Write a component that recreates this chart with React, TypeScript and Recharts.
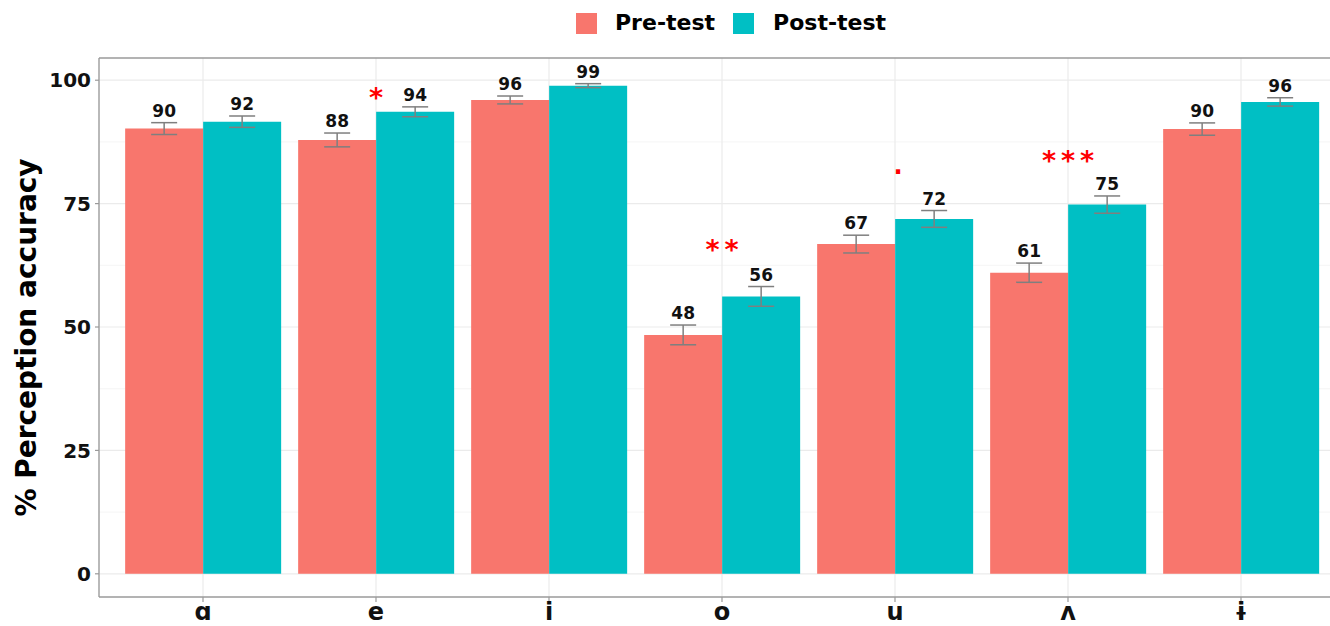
import React from 'react';
import {
  ComposedChart,
  Bar,
  Line,
  XAxis,
  YAxis,
  CartesianGrid,
  ErrorBar,
  LabelList,
  Legend,
  ReferenceLine,
} from 'recharts';

// Vowel categories on the x axis
const vowels = ['ɑ', 'e', 'i', 'o', 'u', 'ʌ', 'ɨ'];

// Series names, in legend order
const seriesNames = ['Pre-test', 'Post-test'];

// Mean perception accuracy (%) and standard error, before and after training
const preTest = [90.2, 87.9, 96.0, 48.4, 66.8, 61.0, 90.1];
const preErr = [1.2, 1.4, 0.8, 2.0, 1.8, 1.95, 1.25];
const postTest = [91.6, 93.6, 98.9, 56.2, 71.9, 74.8, 95.6];
const postErr = [1.15, 1.0, 0.4, 2.0, 1.7, 1.75, 0.85];

// Significance of the pre/post difference and the height it is printed at
const sigMarks = ['', '*', '', '**', '.', '***', ''];
const sigHeights: (number | null)[] = [null, 97.6, null, 66.8, 81.5, 84.9, null];

const yTicks = [0, 25, 50, 75, 100];
const yMinor = [12.5, 37.5, 62.5, 87.5];
const yDomain: [number, number] = [-4.7, 104.5];

const PRE_COLOR = '#F8766D';
const POST_COLOR = '#00BFC4';
const FONT = '"DejaVu Sans", sans-serif';

const data = vowels.map((v, i) => ({
  vowel: v,
  pre: preTest[i],
  preErr: preErr[i],
  post: postTest[i],
  postErr: postErr[i],
  sig: sigMarks[i],
  sigY: sigHeights[i],
}));

// Rounded value printed just above the top of each error bar
const valueLabel = (errs: number[]) => (props: any) => {
  const { x, y, width, height, value, index } = props;
  if (value == null) return null;
  const pxPerUnit = Number(height) / Number(value);
  const top = Number(y) - errs[index] * pxPerUnit;
  return (
    <text
      x={Number(x) + Number(width) / 2}
      y={top - 6}
      textAnchor="middle"
      fontFamily={FONT}
      fontWeight="bold"
      fontSize={17}
      fill="#111"
    >
      {Math.round(Number(value))}
    </text>
  );
};

// Red significance markers centred on the category
const renderSig = (props: any) => {
  const { cx, cy, payload, index } = props;
  const mark: string = payload?.sig ?? '';
  if (!mark || cy == null) return <g key={`sig-${index}`} />;
  if (mark === '.') {
    return (
      <text key={`sig-${index}`} x={cx + 3} y={cy + 2} textAnchor="middle" fontFamily={FONT} fontWeight="bold" fontSize={24} fill="#FF0000">
        .
      </text>
    );
  }
  const stars = mark.split('');
  const step = 19;
  const start = cx - ((stars.length - 1) * step) / 2;
  return (
    <g key={`sig-${index}`}>
      {stars.map((s, k) => (
        <text
          key={k}
          x={start + k * step}
          y={cy + 15}
          textAnchor="middle"
          fontFamily={FONT}
          fontWeight="bold"
          fontSize={27}
          fill="#FF0000"
        >
          {s}
        </text>
      ))}
    </g>
  );
};

const renderLegend = (props: any) => {
  const items = (props.payload || [])
    .filter((p: any) => seriesNames.includes(p.value))
    .sort((a: any, b: any) => seriesNames.indexOf(a.value) - seriesNames.indexOf(b.value));
  return (
    <div style={{ display: 'flex', alignItems: 'center', height: 46 }}>
      {items.map((p: any, i: number) => (
        <div key={i} style={{ display: 'flex', alignItems: 'center', marginRight: 18 }}>
          <div style={{ width: 21, height: 21, background: p.color, marginRight: 18 + i }} />
          <span style={{ fontFamily: FONT, fontWeight: 'bold', fontSize: 22, lineHeight: '22px', color: '#000' }}>
            {p.value}
          </span>
        </div>
      ))}
    </div>
  );
};

// Vowel tick labels with a fixed baseline below the axis
const vowelTick = (props: any) => {
  const { x, y, payload } = props;
  return (
    <text
      x={x}
      y={Number(y) + 18}
      textAnchor="middle"
      fontFamily={FONT}
      fontWeight="bold"
      fontSize={24}
      fill="#111"
    >
      {payload.value}
    </text>
  );
};

const yTitle = (props: any) => {
  const { viewBox } = props;
  const cy = viewBox.y + viewBox.height / 2 + 10;
  return (
    <text
      x={36}
      y={cy}
      transform={`rotate(-90, 36, ${cy})`}
      textAnchor="middle"
      fontFamily={FONT}
      fontWeight="bold"
      fontSize={28}
      fill="#000"
    >
      % Perception accuracy
    </text>
  );
};

export default function App() {
  return (
    <div
      style={{
        position: 'absolute',
        left: 0,
        top: 0,
        width: 1330,
        height: 626,
        overflow: 'hidden',
        background: '#fff',
      }}
    >
      <ComposedChart
        width={1345}
        height={626}
        data={data}
        margin={{ top: 58, right: 0, bottom: 0, left: 0 }}
        barCategoryGap="5%"
        barGap={0}
      >
        <CartesianGrid
          vertical={false}
          horizontalValues={yMinor}
          stroke="#f3f3f3"
          strokeWidth={0.8}
        />
        <CartesianGrid horizontalValues={yTicks} stroke="#ebebeb" strokeWidth={1.2} />
        <XAxis
          dataKey="vowel"
          type="category"
          height={29}
          interval={0}
          padding={{ left: 17.5, right: 17.5 }}
          tickSize={5}
          tickMargin={0}
          axisLine={{ stroke: '#9a9a9a', strokeWidth: 1.3 }}
          tickLine={{ stroke: '#9a9a9a', strokeWidth: 1.2 }}
          tick={vowelTick}
        />
        <YAxis
          type="number"
          width={99}
          domain={yDomain}
          ticks={yTicks}
          allowDataOverflow
          tickSize={4}
          tickMargin={4}
          axisLine={{ stroke: '#9a9a9a', strokeWidth: 1.3 }}
          tickLine={{ stroke: '#9a9a9a', strokeWidth: 1.2 }}
          tick={{ fontFamily: FONT, fontWeight: 'bold', fontSize: 20, fill: '#111' }}
          label={{ content: yTitle }}
        />
        <ReferenceLine y={yDomain[1]} stroke="#9a9a9a" strokeWidth={1.3} />
        <Legend
          verticalAlign="middle"
          align="center"
          layout="horizontal"
          wrapperStyle={{ position: 'absolute', top: 0, left: 576, width: 420, height: 46 }}
          content={renderLegend}
        />
        <Bar dataKey="pre" name={seriesNames[0]} fill={PRE_COLOR} isAnimationActive={false}>
          <ErrorBar dataKey="preErr" width={13} stroke="#7f7f7f" strokeWidth={1.5} direction="y" />
          <LabelList dataKey="pre" content={valueLabel(preErr)} />
        </Bar>
        <Bar dataKey="post" name={seriesNames[1]} fill={POST_COLOR} isAnimationActive={false}>
          <ErrorBar dataKey="postErr" width={13} stroke="#7f7f7f" strokeWidth={1.5} direction="y" />
          <LabelList dataKey="post" content={valueLabel(postErr)} />
        </Bar>
        <Line
          dataKey="sigY"
          stroke="none"
          legendType="none"
          isAnimationActive={false}
          dot={renderSig}
          activeDot={false}
        />
      </ComposedChart>
    </div>
  );
}
